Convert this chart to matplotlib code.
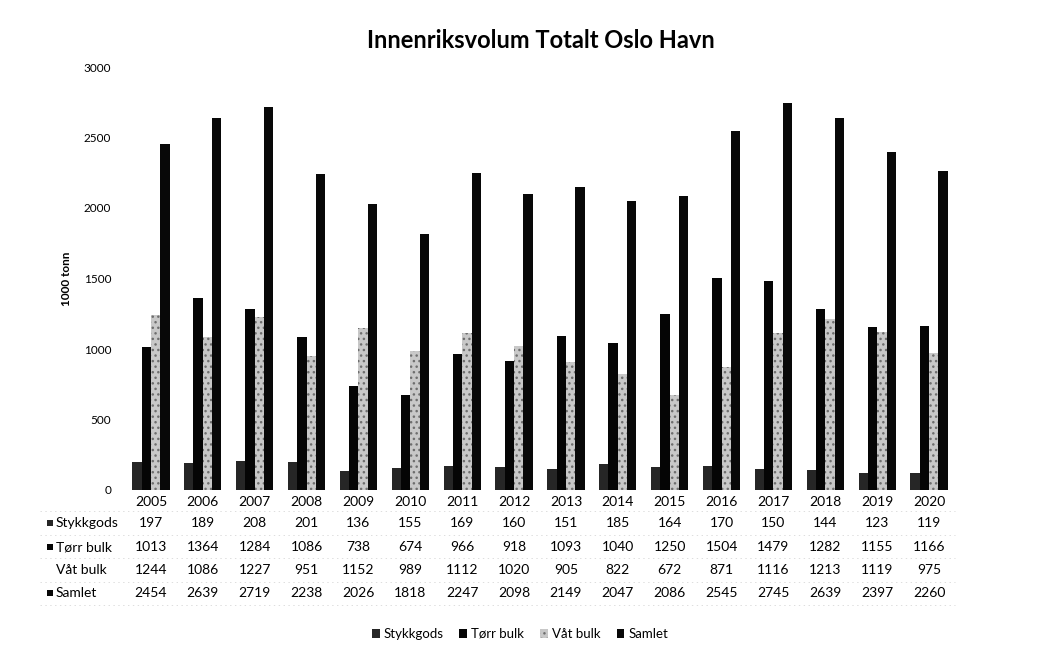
import matplotlib
matplotlib.use("Agg")
import matplotlib.pyplot as plt
import numpy as np
from matplotlib.patches import Patch
from matplotlib.lines import Line2D

years = [str(y) for y in range(2005, 2021)]
stykkgods = [197, 189, 208, 201, 136, 155, 169, 160, 151, 185, 164, 170, 150, 144, 123, 119]
torr_bulk = [1013, 1364, 1284, 1086, 738, 674, 966, 918, 1093, 1040, 1250, 1504, 1479, 1282, 1155, 1166]
vat_bulk = [1244, 1086, 1227, 951, 1152, 989, 1112, 1020, 905, 822, 672, 871, 1116, 1213, 1119, 975]
samlet = [2454, 2639, 2719, 2238, 2026, 1818, 2247, 2098, 2149, 2047, 2086, 2545, 2745, 2639, 2397, 2260]
series_names = ["Stykkgods", "Tørr bulk", "Våt bulk", "Samlet"]

plt.rcParams['font.family'] = ['Lato', 'DejaVu Sans']
plt.rcParams['hatch.linewidth'] = 1.0

fig = plt.figure(figsize=(10.47, 6.48), dpi=100)
ax = fig.add_axes([125/1047, 1-490/648, 830/1047, 423/648])

x = np.arange(len(years))
w = 0.18
colors = ['#262626', '#050505', '#c8c8c8', '#080808']
data = [stykkgods, torr_bulk, vat_bulk, samlet]
offsets = [-1.5, -0.5, 0.5, 1.5]
for i, (vals, c, off) in enumerate(zip(data, colors, offsets)):
    if i == 2:
        ax.bar(x + off*w, vals, w, color=c, edgecolor='#6e6e6e', linewidth=0, hatch='...')
    else:
        ax.bar(x + off*w, vals, w, color=c, linewidth=0)

ax.set_xlim(-0.5, len(years)-0.5)
ax.set_ylim(0, 3000)
ax.set_yticks(range(0, 3001, 500))
ax.tick_params(axis='y', length=0, labelsize=8.5, pad=10)
ax.tick_params(axis='x', length=0, labelbottom=False)
for s in ax.spines.values():
    s.set_visible(False)
ax.set_ylabel("1000 tonn", fontsize=8.5, fontweight='bold', labelpad=8)

fig.text(541/1047, 1-40/648, "Innenriksvolum Totalt Oslo Havn", ha='center', va='center',
         fontsize=17, fontweight='bold')

trans = ax.get_xaxis_transform()
def ax_y(py):
    return (490 - py) / 423

for xi, yr in zip(x, years):
    ax.text(xi, ax_y(502), yr, transform=trans, ha='center', va='center', fontsize=10)

row_y = [523, 547, 570, 593]
for name, vals, py, c in zip(series_names, data, row_y, colors):
    for xi, v in zip(x, vals):
        ax.text(xi, ax_y(py), str(v), transform=trans, ha='center', va='center', fontsize=10)
    fig.text(56/1047, 1-py/648, name, ha='left', va='center', fontsize=10)
    if name != "Våt bulk":
        fig.patches.append(plt.Rectangle((47/1047, 1-(py+3)/648), 6/1047, 6/648,
                                         transform=fig.transFigure, facecolor=c, edgecolor='none'))

# table grid lines (faint)
for py in [511, 535, 558, 582, 605]:
    fig.add_artist(Line2D([40/1047, 955/1047], [1-py/648]*2, color='#d0d0d0', lw=0.5,
                          linestyle=(0, (2, 5)), transform=fig.transFigure))

handles = [Patch(facecolor=colors[0]), Patch(facecolor=colors[1]),
           Patch(facecolor=colors[2], edgecolor='#6e6e6e', linewidth=0, hatch='...'),
           Patch(facecolor=colors[3])]
fig.legend(handles, series_names, loc='center', bbox_to_anchor=(520/1047, 1-634/648), ncol=4,
           frameon=False, fontsize=9.5, handlelength=0.6, handleheight=0.6, handletextpad=0.3,
           columnspacing=1.2)

fig.savefig("out.png", dpi=100, facecolor='white')
